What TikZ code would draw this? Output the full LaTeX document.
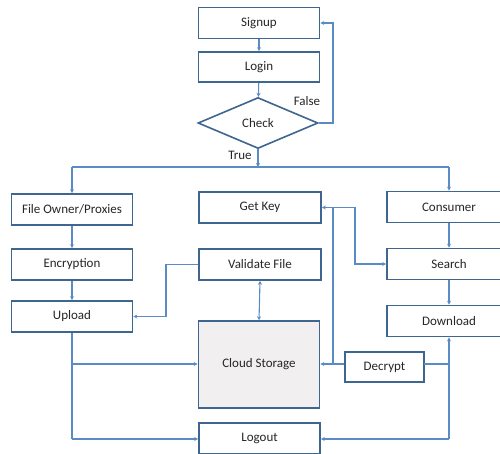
\documentclass[tikz,border=0pt]{standalone}
\usepackage{fontspec}
\setmainfont{Carlito}
\usetikzlibrary{shapes.geometric,arrows.meta}
\definecolor{boxc}{HTML}{3E6690}
\definecolor{linec}{HTML}{5B8BC5}
\definecolor{cloudf}{HTML}{F1EFEF}
\begin{document}
\begin{tikzpicture}[x=1pt,y=-1pt,
  box/.style={draw=boxc,line width=1.6pt,fill=white,minimum height=31pt,inner sep=0pt,font=\fontsize{13}{15}\selectfont,text=black!85},
  conn/.style={draw=linec,line width=1.1pt},
  arr/.style={conn,-{Stealth[length=4pt,width=4pt]}},
  darr/.style={conn,{Stealth[length=4pt,width=4pt]}-{Stealth[length=4pt,width=4pt]}},
  lbl/.style={font=\fontsize{13}{15}\selectfont,text=black!85}]
\clip (0,0) rectangle (500,453);
\fill[white] (0,0) rectangle (500,453);
\node[box,minimum width=121pt] (signup) at (259,23) {Signup};
\node[box,minimum width=121pt,minimum height=30pt] (login) at (259,67) {Login};
\node[box,diamond,minimum width=120pt,minimum height=51pt] (check) at (258,123) {Check};
\node[box,minimum width=121pt] (fileowner) at (72,209.5) {File Owner/Proxies};
\node[box,minimum width=121pt] (encryption) at (72,264.5) {Encryption};
\node[box,minimum width=121pt] (upload) at (72,316.5) {Upload};
\node[box,minimum width=122pt] (getkey) at (260,207.5) {Get Key};
\node[box,minimum width=122pt] (validate) at (260,264.5) {Validate File};
\node[box,minimum width=124pt] (consumer) at (449,207) {Consumer};
\node[box,minimum width=124pt] (search) at (449,264) {Search};
\node[box,minimum width=124pt] (download) at (449,321) {Download};
\node[box,fill=cloudf,minimum width=121pt,minimum height=87pt] (cloud) at (259,364.5) {Cloud Storage};
\node[box,minimum width=79pt,minimum height=30pt] (decrypt) at (384.5,367) {Decrypt};
\node[box,minimum width=121pt] (logout) at (259.5,438.5) {Logout};
\node[lbl] (false) at (307,101) {False};
\node[lbl] (true) at (240,155) {True};
% coordinates
\coordinate (falsex) at (333,123);
\coordinate (truey) at (258,167);
\coordinate (hl) at (72,167);
\coordinate (hr) at (449,167);
\coordinate (vfx) at (166,264.5);
\coordinate (gkx) at (355,207.5);
\coordinate (gky) at (333,207.5);
\coordinate (csy) at (333,364);
\coordinate (decr) at (424,364);
\coordinate (dlx) at (449,364);
\coordinate (dlb) at (449,439);
\coordinate (upb) at (72,439);
\coordinate (upm) at (72,364);
% connectors
\draw[arr] (signup) -- (login);
\draw[arr] (login) -- (check);
\draw[arr] (check.east) -- (falsex) |- (signup.east);
\draw[arr] (check.south) -- (truey);
\draw[conn] (hl) -- (hr);
\draw[arr] (hl) -- (fileowner.north);
\draw[arr] (hr) -- (consumer.north);
\draw[arr] (fileowner) -- (encryption);
\draw[arr] (encryption) -- (upload);
\draw[arr] (validate.west) -- (vfx) |- (upload.east);
\draw[darr] (validate.south) -- (cloud.north);
\draw[darr] (getkey.east) -- (gkx) |- (search.west);
\draw[conn] (gky) -- (csy);
\draw[arr] (decrypt.west |- csy) -- (cloud.east |- csy);
\draw[conn] (decr) -- (dlx);
\draw[arr] (dlb) -- (download.south);
\draw[arr] (dlb) -- (logout.east |- dlb);
\draw[arr] (search) -- (download);
\draw[arr] (consumer) -- (search);
\draw[conn] (upload.south) -- (upb);
\draw[arr] (upb) -- (logout.west |- upb);
\draw[arr] (upm) -- (cloud.west |- upm);
\end{tikzpicture}
\end{document}
